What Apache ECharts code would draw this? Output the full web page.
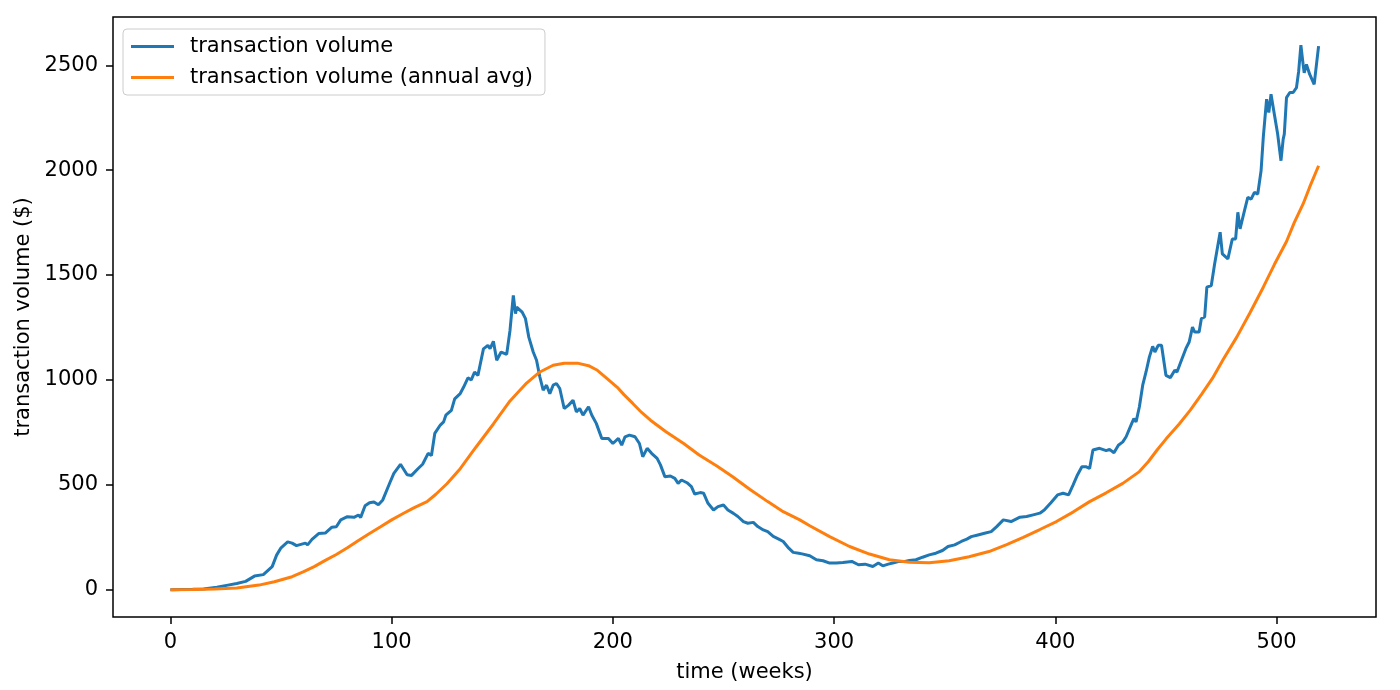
<!DOCTYPE html>
<html>
<head>
<meta charset="utf-8">
<script src="https://cdn.jsdelivr.net/npm/echarts@6/dist/echarts.min.js"></script>
<style>
html,body{margin:0;padding:0;background:#fff;}
#chart{width:1400px;height:690px;}
</style>
</head>
<body>
<div id="chart"></div>
<script>
// ---- data ----
const seriesNames = ['transaction volume', 'transaction volume (annual avg)'];
const xTicks = [0, 100, 200, 300, 400, 500];
const yTicks = [0, 500, 1000, 1500, 2000, 2500];

const volumeWeeks = [0,5,10,15,21,26,30,34,38,42,46,48,50,53,55,57,61,62,64,67,70,73,75,77,80,83,85,86,88,90,92,94,96,99,101,104,107,109,112,114,116.5,118,119.5,122,123.5,124.5,127,128.5,131,132.5,134.5,136,137.5,139,141.5,143.5,144.5,146,147.5,149.5,152,153.5,155,156,156.5,159,160.5,162,164,165.5,167,168.5,170,171.5,173,174.5,176,178,180,182,183.5,185,186.5,189,190.5,192.5,195,198,200,202.5,204,205.5,207.5,210,212,213.5,215.5,217.5,220,221.5,223.5,226,228,229.5,231,233.5,235.5,237,239.5,241,243,245.5,247.5,250,252,254.5,256.5,259,261,263.5,265.5,268,270,272.5,275,277,279.5,281.5,284,285.5,289,292,295,298,301,304,308,311,314,317.5,320,322,324.5,326.5,329.5,332,334,337,340,343,346,349,351.5,354.5,357.5,360,362,365,368,371,373.5,376.5,380,384,387,390,393,395,398,401,403.5,406,408,410,412,414,415.5,417,420,423,424.5,426.5,428.5,430.5,432,434.5,435.5,436.5,438,439.5,441,442.5,444,445,446.5,448,449,450,452,454,455,457,459,460.5,462,463,465,466,467.5,468.5,470.5,472,474.5,475.5,478,480,481.5,482.5,483.5,485.5,487,488.5,490,491.5,493,494,495.5,496.5,497.5,499,500.5,502,503,503.5,504.5,506,507.5,509,510,511,512,512.5,513.5,515,517,519];
const volumeValues = [0,1,2,4,12,22,30,40,65,72,110,165,200,228,222,210,222,214,240,268,270,298,300,333,348,345,356,345,400,415,418,405,428,505,555,598,548,545,578,598,650,640,745,785,800,832,855,910,935,965,1010,1000,1038,1022,1148,1165,1149,1184,1094,1133,1122,1236,1403,1316,1347,1323,1292,1204,1133,1094,1014,951,975,935,975,983,959,864,880,903,848,864,832,872,832,793,721,721,697,721,689,729,737,729,697,634,674,650,626,595,539,542,531,507,523,510,491,456,463,460,412,380,396,404,380,364,349,325,317,321,301,285,277,254,241,230,198,178,174,171,162,143,138,127,127,130,135,119,122,111,127,114,122,127,135,135,139,143,155,166,174,187,206,214,230,241,253,261,269,277,301,333,325,346,349,357,365,380,415,452,460,452,499,547,586,586,578,666,674,663,669,653,689,705,729,792,816,800,872,975,1038,1109,1160,1133,1165,1165,1094,1022,1011,1046,1038,1094,1149,1181,1252,1228,1228,1292,1300,1442,1450,1553,1704,1601,1577,1672,1672,1799,1720,1807,1870,1862,1894,1886,1997,2156,2338,2275,2362,2267,2172,2045,2148,2172,2346,2370,2370,2393,2472,2596,2504,2464,2504,2456,2409,2591];

const avgWeeks = [0,10,20,30,40,47,55,60,65,70,75,80,85,90,95,100,105,110,116,120,125,131,138,146,153.5,161,167,173,178,184,189,193,197,202,205,209,213,217,224,232,239,247,254,262,270,277,284.5,289,298,307,316,325,334,343,352,361,370,378,385.5,393,400.5,408,415.5,423,430.5,438,442,446,450,456,461,466,471,476,482,488,494,499,504.5,508,512,515,519];
const avgValues = [0,1,3,8,22,38,62,85,110,140,168,200,235,268,300,333,362,390,420,455,505,577,678,790,900,985,1038,1070,1080,1080,1068,1046,1010,965,930,888,845,808,753,697,642,590,540,478,420,372,333,305,253,206,170,143,131,129,138,157,182,215,250,287,325,370,420,462,507,563,610,666,718,790,856,930,1007,1100,1204,1320,1442,1550,1660,1750,1839,1920,2021];

// ---- chart ----
const pairs = (xs, ys) => xs.map((x, i) => [x, ys[i]]);
const font = 'DejaVu Sans';
const fs = 21;
const chart = echarts.init(document.getElementById('chart'), null, {renderer: 'canvas'});
chart.setOption({
  animation: false,
  backgroundColor: '#ffffff',
  textStyle: {fontFamily: font},
  grid: {
    left: 113, right: 24, top: 17, bottom: 73,
    show: true, borderColor: '#000', borderWidth: 1.5, backgroundColor: 'transparent'
  },
  legend: {
    orient: 'vertical',
    left: 123, top: 29,
    padding: [7, 12, 7, 8],
    itemGap: 10,
    itemWidth: 43, itemHeight: 3,
    icon: 'rect',
    backgroundColor: 'rgba(255,255,255,0.8)',
    borderColor: '#cccccc', borderWidth: 1, borderRadius: 4,
    textStyle: {fontFamily: font, fontSize: fs, color: '#000', padding: [0, 0, 0, 11], lineHeight: 21},
    data: seriesNames
  },
  xAxis: {
    type: 'value',
    min: -25.95, max: 544.95,
    name: 'time (weeks)',
    nameLocation: 'middle',
    nameGap: 45,
    nameTextStyle: {fontFamily: font, fontSize: fs, color: '#000'},
    splitLine: {show: false},
    axisLine: {show: false, onZero: false},
    axisTick: {show: true, length: 7, lineStyle: {color: '#000', width: 1.5}, customValues: xTicks},
    axisLabel: {fontFamily: font, fontSize: fs, color: '#000', margin: 15, customValues: xTicks, formatter: v => String(v)}
  },
  yAxis: {
    type: 'value',
    min: -130, max: 2730,
    name: 'transaction volume ($)',
    nameLocation: 'middle',
    nameGap: 74,
    nameRotate: 90,
    nameTextStyle: {fontFamily: font, fontSize: fs, color: '#000'},
    splitLine: {show: false},
    axisLine: {show: false, onZero: false},
    axisTick: {show: true, length: 7, lineStyle: {color: '#000', width: 1.5}, customValues: yTicks},
    axisLabel: {fontFamily: font, fontSize: fs, color: '#000', margin: 15, customValues: yTicks, formatter: v => String(v)}
  },
  series: [
    {
      name: seriesNames[0], type: 'line', showSymbol: false, symbol: 'none',
      data: pairs(volumeWeeks, volumeValues),
      lineStyle: {color: '#1f77b4', width: 3}, itemStyle: {color: '#1f77b4'},
      z: 2
    },
    {
      name: seriesNames[1], type: 'line', showSymbol: false, symbol: 'none',
      data: pairs(avgWeeks, avgValues),
      lineStyle: {color: '#ff7f0e', width: 3}, itemStyle: {color: '#ff7f0e'},
      z: 3
    }
  ]
});
</script>
</body>
</html>
